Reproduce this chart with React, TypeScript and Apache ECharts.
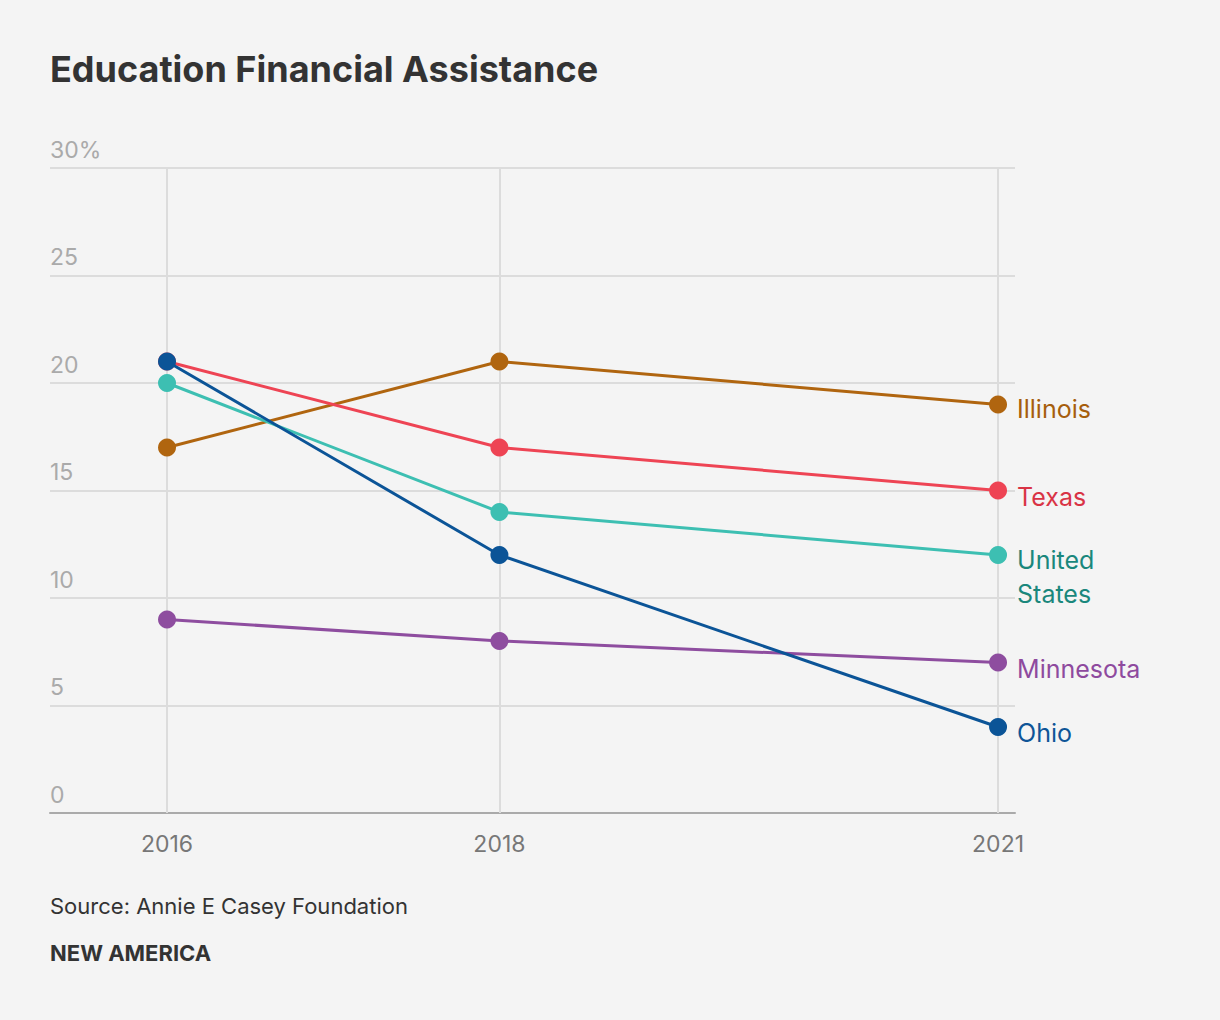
import { useEffect, useRef } from 'react'
import * as echarts from 'echarts'

const years = [2016, 2018, 2021]

const states = ['Illinois', 'Texas', 'United\nStates', 'Minnesota', 'Ohio']
const illinois = [17, 21, 19]
const texas = [21, 17, 15]
const unitedStates = [20, 14, 12]
const minnesota = [9, 8, 7]
const ohio = [21, 12, 4]

const lineColors = ['#b0650f', '#ee4454', '#3dbfb2', '#8e4d9f', '#0b5497']
const labelColors = ['#a65e0c', '#d93345', '#1a877c', '#8e4a9e', '#0e5597']
const labelOffsets = [
  [0, 4],
  [0, 6],
  [0, 22],
  [0, 6],
  [0, 6],
]

const FONT = 'Inter, "Noto Sans", sans-serif'

export default function App() {
  const hostRef = useRef<HTMLDivElement | null>(null)

  useEffect(() => {
    const host = hostRef.current
    if (!host) return
    const chart = echarts.init(host, undefined, { renderer: 'svg' })

    const values = [illinois, texas, unitedStates, minnesota, ohio]

    const series: any[] = values.map((vals, i) => ({
      name: states[i],
      type: 'line',
      data: vals.map((v, j) => {
        const point: any = [years[j], v]
        if (j !== vals.length - 1) return point
        return {
          value: point,
          label: {
            show: true,
            position: 'right',
            distance: 10,
            offset: labelOffsets[i],
            formatter: states[i],
            color: labelColors[i],
            fontSize: 25,
            lineHeight: 34,
            fontFamily: FONT,
            align: 'left',
          },
        }
      }),
      symbol: 'circle',
      symbolSize: 18,
      lineStyle: { width: 3, color: lineColors[i] },
      itemStyle: { color: lineColors[i] },
      z: 10 + i,
    }))

    // vertical guide lines at each year
    series.unshift({
      type: 'line',
      data: [],
      silent: true,
      z: 1,
      markLine: {
        silent: true,
        z: 1,
        symbol: 'none',
        label: { show: false },
        lineStyle: { color: '#dcdcdc', width: 2, type: 'solid' },
        data: years.map((y) => ({ xAxis: y })),
      },
    })

    chart.setOption({
      animation: false,
      backgroundColor: '#f4f4f4',
      textStyle: { fontFamily: FONT },
      title: {
        text: 'Education Financial Assistance',
        left: 50,
        top: 51,
        padding: 0,
        textStyle: { fontSize: 36, fontWeight: 'bold', color: '#333', fontFamily: FONT },
      },
      graphic: [
        {
          type: 'text',
          left: 50,
          top: 895,
          style: { text: 'Source: Annie E Casey Foundation', fontSize: 22, fill: '#333', fontFamily: FONT },
        },
        {
          type: 'text',
          left: 50,
          top: 942,
          style: { text: 'NEW AMERICA', fontSize: 22, fontWeight: 'bold', fill: '#333', fontFamily: FONT },
        },
      ],
      grid: { left: 50, right: 205, top: 168, bottom: 207, containLabel: false },
      xAxis: {
        type: 'value',
        min: 2015.296,
        max: 2021.102,
        splitLine: { show: false },
        axisLine: { show: true, lineStyle: { color: '#aaa', width: 2 } },
        axisTick: { show: false },
        axisLabel: {
          customValues: years,
          color: '#777',
          fontSize: 23,
          margin: 19,
          fontFamily: FONT,
          formatter: (v: number) => String(v),
        },
      },
      yAxis: {
        type: 'value',
        min: 0,
        max: 30,
        interval: 5,
        axisLine: { show: false },
        axisTick: { show: false },
        splitLine: { lineStyle: { color: '#dcdcdc', width: 2 } },
        axisLabel: {
          inside: true,
          margin: 0,
          align: 'left',
          verticalAlign: 'bottom',
          padding: [0, 0, 7, 0],
          color: '#aaa',
          fontSize: 23,
          fontFamily: FONT,
          formatter: (v: number) => (v === 30 ? '30%' : String(v)),
        },
      },
      series,
    })

    return () => {
      chart.dispose()
    }
  }, [])

  return (
    <div style={{ position: 'fixed', left: 0, top: 0, width: 1220, height: 1020, background: '#f4f4f4' }}>
      <div ref={hostRef} style={{ width: 1220, height: 1020 }} />
    </div>
  )
}
